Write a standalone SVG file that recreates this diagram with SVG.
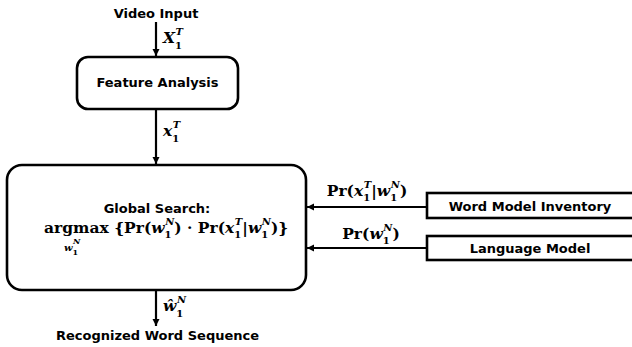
<svg xmlns="http://www.w3.org/2000/svg" width="632" height="347" viewBox="0 0 632 347">
<style>
.box{fill:#fff;stroke:#000;stroke-width:2.6}
.ln{fill:none;stroke:#000;stroke-width:2.2}
.t{font-family:"DejaVu Sans",sans-serif;font-weight:bold;font-size:13px;fill:#000;text-anchor:middle}
.m{font-family:"DejaVu Serif",serif;font-weight:bold;font-size:15.5px;fill:#000}
.i{font-style:italic}
.s{font-size:10px}
.ss{font-size:8px}
</style>
<defs>
<marker id="ah" markerUnits="userSpaceOnUse" markerWidth="10" markerHeight="10" refX="7" refY="4" orient="auto">
<path d="M0,0.5 L7,4 L0,7.5 Z" fill="#000"/>
</marker>
</defs>
<g id="connectors">
<line class="ln" x1="156" y1="22" x2="156" y2="56" marker-end="url(#ah)"/>
<line class="ln" x1="156" y1="109" x2="156" y2="164" marker-end="url(#ah)"/>
<line class="ln" x1="156" y1="290" x2="156" y2="326" marker-end="url(#ah)"/>
<line class="ln" x1="427" y1="207" x2="307" y2="207" marker-end="url(#ah)"/>
<line class="ln" x1="427" y1="248" x2="307" y2="248" marker-end="url(#ah)"/>
<text class="m" x="163" y="43"><tspan class="i">X</tspan><tspan class="s" dy="6">1</tspan><tspan class="s i" dx="-6.4" dy="-14">T</tspan></text>
<text class="m" x="163" y="136"><tspan class="i">x</tspan><tspan class="s" dy="6">1</tspan><tspan class="s i" dx="-6.4" dy="-14">T</tspan></text>
<text class="m" x="163" y="311"><tspan class="i">ŵ</tspan><tspan class="s" dy="6">1</tspan><tspan class="s i" dx="-6.4" dy="-14">N</tspan></text>
<text class="m" x="367" y="196" text-anchor="middle">Pr(<tspan class="i">x</tspan><tspan class="s" dy="5">1</tspan><tspan class="s i" dx="-6.4" dy="-13">T</tspan><tspan dy="8">|</tspan><tspan class="i">w</tspan><tspan class="s" dy="5">1</tspan><tspan class="s i" dx="-6.4" dy="-13">N</tspan><tspan dy="8">)</tspan></text>
<text class="m" x="371" y="239" text-anchor="middle">Pr(<tspan class="i">w</tspan><tspan class="s" dy="5">1</tspan><tspan class="s i" dx="-6.4" dy="-13">N</tspan><tspan dy="8">)</tspan></text>
</g>
<g id="video-input"><text class="t" x="156" y="18">Video Input</text></g>
<g id="feature-analysis">
<rect class="box" x="77" y="57" width="161" height="52" rx="11"/>
<text class="t" x="157.5" y="87">Feature Analysis</text>
</g>
<g id="global-search">
<rect class="box" x="7" y="165" width="299" height="125" rx="15"/>
<text class="t" x="157" y="213">Global Search:</text>
<text class="m" x="44" y="233">argmax {Pr(<tspan class="i">w</tspan><tspan class="s" dy="5">1</tspan><tspan class="s i" dx="-6.4" dy="-13">N</tspan><tspan dy="8">) · Pr(</tspan><tspan class="i">x</tspan><tspan class="s" dy="5">1</tspan><tspan class="s i" dx="-6.4" dy="-13">T</tspan><tspan dy="8">|</tspan><tspan class="i">w</tspan><tspan class="s" dy="5">1</tspan><tspan class="s i" dx="-6.4" dy="-13">N</tspan><tspan dy="8">)}</tspan></text>
<text class="m" x="64" y="251"><tspan class="s i">w</tspan><tspan class="ss" dy="4">1</tspan><tspan class="ss i" dx="-5.1" dy="-11">N</tspan></text>
</g>
<g id="word-model-inventory">
<rect class="box" x="427" y="193" width="220" height="25"/>
<text class="t" x="530" y="211">Word Model Inventory</text>
</g>
<g id="language-model">
<rect class="box" x="427" y="236" width="220" height="24"/>
<text class="t" x="530" y="253">Language Model</text>
</g>
<g id="output"><text class="t" x="157.5" y="340">Recognized Word Sequence</text></g>
</svg>
